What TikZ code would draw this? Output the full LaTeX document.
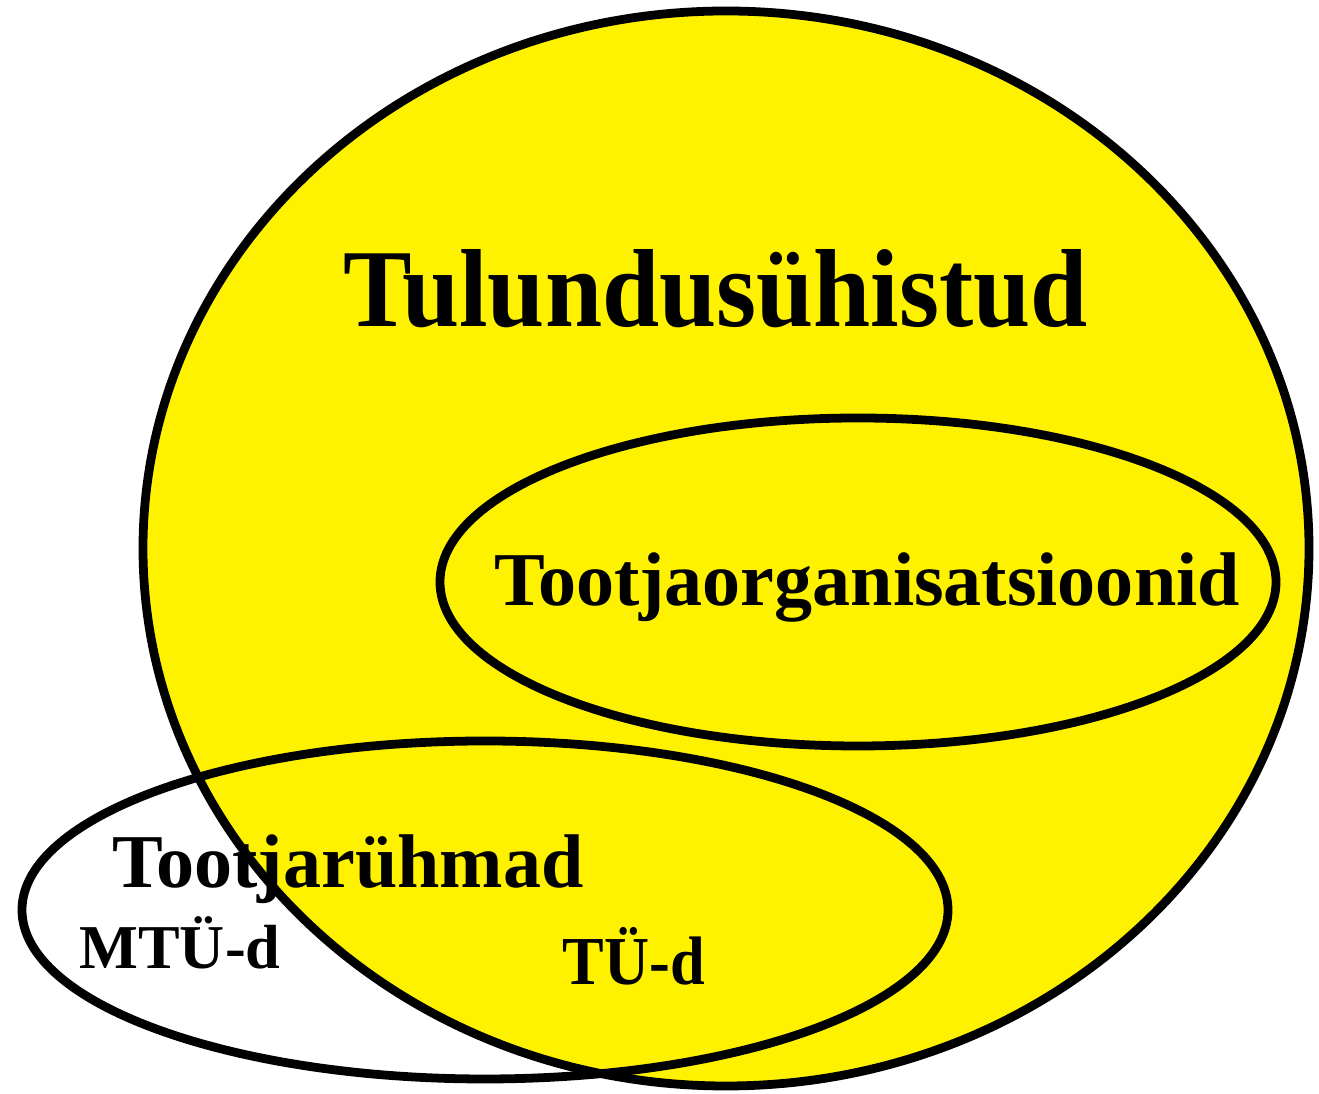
\documentclass[tikz,border=0pt]{standalone}
\usepackage{fontspec}
\setmainfont{Liberation Serif}
\usetikzlibrary{positioning}
\definecolor{tuyellow}{RGB}{255,242,0}
\tikzset{
  setline/.style={line width=5pt},
  setlabel/.style={anchor=base,inner sep=0pt},
  bigtext/.style={font=\fontsize{58.5}{64}\selectfont\bfseries},
  midtext/.style={font=\fontsize{43.3}{48}\selectfont\bfseries},
  smalltext/.style={font=\fontsize{35.5}{40}\selectfont\bfseries}
}
\begin{document}
\begin{tikzpicture}[x=0.02cm,y=0.02cm]
      \useasboundingbox (0,0) rectangle (1319,1094);
      \fill[tuyellow] (726,545.5) ellipse [x radius=583, y radius=537.5];
      \begin{scope}[every node/.style={setlabel}]
        \node (TS)[bigtext] at (715.5,767) {\scalebox{1}[1.08]{Tulundusühistud}};
        \node (TO)[midtext] at (867,488) {Tootjaorganisatsioonid};
        \node (TR)[midtext] at (348,206) {Tootjarühmad};
        \node (MTU)[smalltext] at (180,125) {MTÜ-d};
        \node (TU)[smalltext] at (634,109) {\scalebox{1}[1.1]{TÜ-d}};
      \end{scope}
      \begin{scope}[every path/.style={setline}]
        \draw (726,545.5) ellipse [x radius=583, y radius=537.5];
        \draw (858,512) ellipse [x radius=418, y radius=164];
        \draw (485,184) ellipse [x radius=463, y radius=169];
      \end{scope}
    \end{tikzpicture}
\end{document}
